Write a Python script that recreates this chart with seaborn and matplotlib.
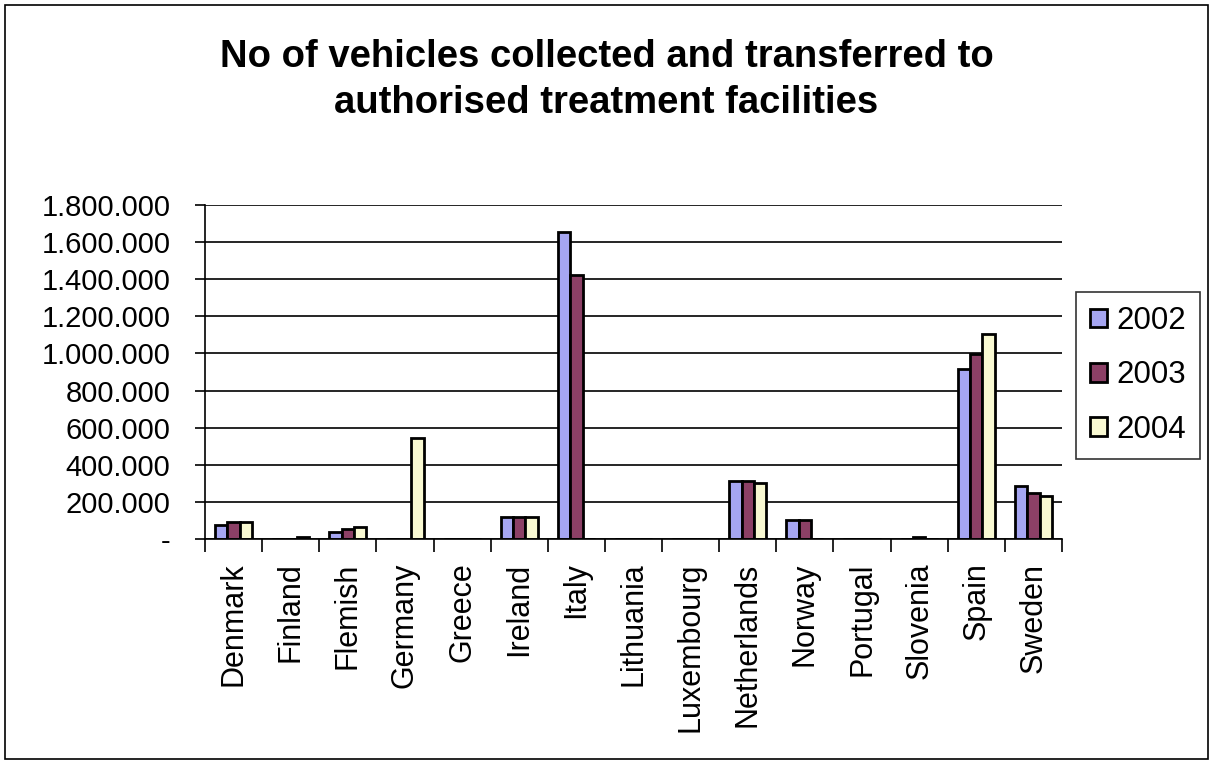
import numpy as np
import pandas as pd
import seaborn as sns
import matplotlib.pyplot as plt
from matplotlib.ticker import FuncFormatter, FixedLocator
from matplotlib.patches import Rectangle

# data
countries = ["Denmark", "Finland", "Flemish", "Germany", "Greece", "Ireland", "Italy",
             "Lithuania", "Luxembourg", "Netherlands", "Norway", "Portugal", "Slovenia",
             "Spain", "Sweden"]
years = ["2002", "2003", "2004"]
v2002 = [75000, 0, 38000, 0, 0, 118000, 1654000, 0, 0, 312000, 102000, 0, 0, 916000, 286000]
v2003 = [92000, 0, 54000, 0, 0, 118000, 1422000, 0, 0, 312000, 102000, 0, 12000, 995000, 248000]
v2004 = [92000, 12000, 65000, 544000, 0, 118000, 0, 0, 0, 302000, 0, 0, 0, 1104000, 232000]
colors = ["#9999FF", "#993366", "#FFFFCC"]

df = pd.DataFrame({
    "country": countries * 3,
    "year": [y for y in years for _ in countries],
    "value": v2002 + v2003 + v2004,
})

sns.set_style("white")
plt.rcParams["font.family"] = ["Liberation Sans", "DejaVu Sans"]
plt.rcParams["text.color"] = "black"
plt.rcParams["xtick.color"] = "black"
plt.rcParams["ytick.color"] = "black"

fig = plt.figure(figsize=(12.13, 7.64), dpi=100)
ax = fig.add_axes([205 / 1213, 1 - 539 / 764, (1062 - 205) / 1213, (539 - 205) / 764])

sns.barplot(data=df, x="country", y="value", hue="year", palette=colors,
            width=0.65, gap=0, edgecolor="black", linewidth=2, ax=ax, legend=True)

ax.set_ylim(0, 1800000)
ax.set_xlim(-0.5, len(countries) - 0.5)
ax.set_yticks(np.arange(0, 1800001, 200000))
ax.yaxis.set_major_formatter(FuncFormatter(
    lambda v, p: "-" if v == 0 else f"{v:,.0f}".replace(",", ".")))
ax.yaxis.grid(True, color="black", linewidth=1.2)
ax.set_axisbelow(True)
ax.set_xlabel("")
ax.set_ylabel("")

for s in ["top", "right"]:
    ax.spines[s].set_visible(False)
for s in ["left", "bottom"]:
    ax.spines[s].set_color("black")
    ax.spines[s].set_linewidth(1.2)

ax.tick_params(axis="y", labelsize=21, length=7, width=1.2, direction="out", left=True,
               labelcolor="black", pad=18)
ax.tick_params(axis="x", which="major", labelsize=22, length=0, pad=17, rotation=90,
               labelcolor="black")
ax.xaxis.set_minor_locator(FixedLocator(np.arange(-0.5, len(countries), 1)))
ax.tick_params(axis="x", which="minor", length=9, width=1.2, direction="out",
               bottom=True, color="black")

handles, labels = ax.get_legend_handles_labels()
leg = fig.legend(handles, labels, loc="upper left",
                 bbox_to_anchor=(1076 / 1213, 1 - 292 / 764),
                 fontsize=22.5, frameon=True, fancybox=False, edgecolor="black",
                 handlelength=0.55, handleheight=0.55, handletextpad=0.3,
                 labelspacing=0.78, borderpad=0.45, borderaxespad=0)
leg.get_frame().set_linewidth(1.2)
if ax.get_legend():
    ax.get_legend().remove()

fig.text(0.5, 1 - 57 / 764, "No of vehicles collected and transferred to",
         ha="center", va="center", fontsize=27.5, fontweight="bold")
fig.text(0.5, 1 - 103 / 764, "authorised treatment facilities",
         ha="center", va="center", fontsize=27.5, fontweight="bold")

fig.patches.append(Rectangle((5 / 1213, 5 / 764), 1 - 10 / 1213, 1 - 10 / 764,
                             transform=fig.transFigure, fill=False,
                             edgecolor="black", linewidth=1.2))

fig.savefig("out.png", dpi=100)
